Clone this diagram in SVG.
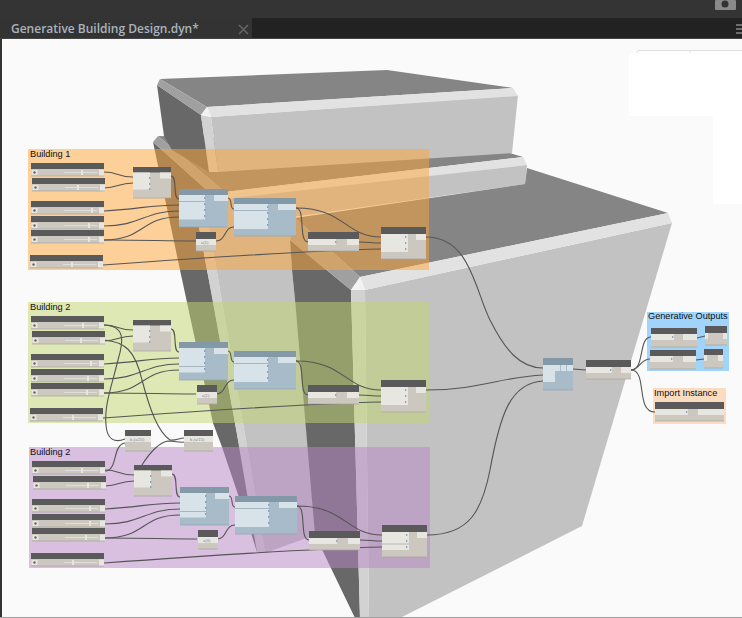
<svg xmlns="http://www.w3.org/2000/svg" width="742" height="618" viewBox="0 0 742 618">
<style>
.w{fill:none;stroke:#555;stroke-width:1.1}
.hd{fill:#5a5a5a}.bd{fill:#ccc8bf}.lt{fill:#e8e6e0}.blu{fill:#a8bbc8}.bh{fill:#8499a8}.bl{fill:#d8e2e9}
.edge{fill:none;stroke:#a5a39b;stroke-width:.7}.bedge{fill:none;stroke:#8fa3b1;stroke-width:.7}
.p{fill:#6f8fb5}.th{fill:#e8e6e0}
.lbl{font-family:"Liberation Sans",Arial,sans-serif;font-size:9.2px;fill:#101010}
.t{font-family:"Liberation Sans",Arial,sans-serif;font-size:4px;fill:#7a8a9a}
.g1{fill:#ffa63a;fill-opacity:.5}.g2{fill:#c2d66e;fill-opacity:.5}.g3{fill:#b884c6;fill-opacity:.5}
</style>
<defs>
<g id="sl"><rect class="hd" width="73" height="6"/><rect class="bd" y="6" width="73" height="7"/><rect class="lt" x=".5" y="7" width="6" height="5"/><circle cx="3.5" cy="9.5" r="1.2" fill="#666"/><rect x="33" y="9" width="33" height="1" fill="#e0ded8"/><rect class="lt" x="68" y="6.5" width="5" height="6.5"/><path class="edge" d="M0,13H73"/></g>
<g id="na"><rect class="bd" width="38" height="31"/><rect class="hd" width="38" height="5.500"/><rect class="lt" y="5.500" width="17" height="17"/><rect class="lt" x="27" y="5.500" width="11" height="6"/><path class="p" d="M16,10l2,1-2,1zM16,16l2,1-2,1zM16,21l2,1-2,1z"/><path class="edge" d="M0,31H38"/></g>
<g id="nb"><rect class="blu" width="49" height="38"/><rect class="bh" width="49" height="6"/><rect class="bl" y="6" width="26" height="24.500"/><rect class="bl" x="35" y="6" width="14" height="6"/><path class="p" d="M25,8l2,1-2,1zM25,14l2,1-2,1zM25,20l2,1-2,1zM25,26l2,1-2,1z"/><path class="bedge" d="M0,38H49"/></g>
<g id="nc"><rect class="blu" width="62" height="38"/><rect class="bh" width="62" height="6"/><rect class="bl" y="6" width="34" height="25"/><rect class="bl" x="44" y="6" width="18" height="6"/><path class="bedge" d="M0,12.500H34"/><path class="p" d="M33,8l2,1-2,1zM33,14l2,1-2,1zM33,20l2,1-2,1zM33,26l2,1-2,1z"/><path class="bedge" d="M0,38H62"/></g>
<g id="nd"><rect class="bd" width="20" height="19"/><rect class="hd" width="20" height="7"/><rect class="lt" y="7" width="20" height="6"/><path class="edge" d="M0,19H20"/></g>
<g id="ne"><rect class="bd" width="51" height="19"/><rect class="hd" width="51" height="7"/><rect class="lt" y="7" width="28" height="6"/><rect class="lt" x="39" y="7" width="12" height="6"/><path class="p" d="M27,9l2,1-2,1z"/><path class="edge" d="M0,19H51"/></g>
<g id="nf"><rect class="bd" width="45" height="32"/><rect class="hd" width="45" height="7"/><rect class="lt" y="7" width="27" height="18"/><rect class="lt" x="35" y="7" width="10" height="6"/><path class="p" d="M24,9l2,1-2,1zM24,15l2,1-2,1zM24,21l2,1-2,1z"/><path class="edge" d="M0,32H45"/></g>
<g id="wires">
<path class="w" d="M104,172C118,172 118,177 133,177"/>
<path class="w" d="M104,188C118,188 118,183 133,183"/>
<path class="w" d="M171,176C178,176 172,199 179,199"/>
<path class="w" d="M104,211C140,209 150,205 179,205"/>
<path class="w" d="M104,226C140,226 145,211 179,211"/>
<path class="w" d="M104,240C145,240 140,217 179,217"/>
<path class="w" d="M104,240C150,240 160,241 196,241"/>
<path class="w" d="M216,241C226,241 224,227 234,227"/>
<path class="w" d="M228,198C233,198 229,209 234,209"/>
<path class="w" d="M296,208C345,208 345,237 381,237"/>
<path class="w" d="M296,208C306,208 298,242 308,242"/>
<path class="w" d="M359,242C370,242 370,243 381,243"/>
<path class="w" d="M103,265C200,258 300,251 381,249"/>
</g>
</defs>

<g id="chrome">
<rect width="742" height="618" fill="#fafafa"/>
<rect width="742" height="18" fill="#343434"/>
<rect y="18" width="742" height="20" fill="#222"/>
<rect y="18" width="252" height="20" fill="#333"/>
<rect y="38" width="742" height="1" fill="#444"/>
<rect y="39" width="2" height="579" fill="#333"/>
<rect x="715" width="21" height="10" rx="1" fill="#8a8a8a"/><circle cx="725" cy="4" r="3.500" fill="#333"/>
<path d="M736,25H742M736,29H742M736,33H742" stroke="#888" stroke-width="1.500"/>
<text x="11" y="33" font-family="'Open Sans',sans-serif" font-size="12" font-weight="600" fill="#a9b4be">Generative Building Design.dyn*</text>
<path d="M239,25L248,34M248,25L239,34" stroke="#666" stroke-width="1.500"/>
<rect x="629" y="53" width="84" height="63" fill="#fff"/>
<rect x="713" y="51" width="29" height="153" fill="#fff"/>
<rect x="637" y="51" width="76" height="2" fill="#fff"/>
<path d="M637,53V52Q637,50.500 639,50.500H742M690,50.500V53" fill="none" stroke="#d8d8d8" stroke-width=".8"/>
</g>

<g id="building">
<polygon fill="#686868" points="153,142 180,270 213,423 222,447 251,533 257,552 259,552 235,423 212,295 207,270 194,200 218,200"/>
<polygon fill="#d2d2d2" points="194,200 205,200 220,290 243,423 265,553 257,552 235,423 207,270"/>
<polygon fill="#c2c2c2" points="205,200 295,210 290,240 292,270 295,300 313,500 315,535 265,553 243,423 220,290"/>
<polygon fill="#858585" points="158,136 482,145 523,157 225,192"/>
<polygon fill="#a0a0a0" points="153,142 158,136 225,192 218,200"/>
<polygon fill="#e2e2e2" points="225,192 523,157 527,165 230,200 218,200"/>
<polygon fill="#c2c2c2" points="225,199 527,165 525,184 300,216 225,222"/>
<polygon fill="#686868" points="290,240 351,290 360,618 355,618 315,535 295,300 292,270"/>
<polygon fill="#858585" points="527,168 668,213 360,277 295,218 525,184"/>
<polygon fill="#a0a0a0" points="295,218 360,277 351,290 290,240"/>
<polygon fill="#c2c2c2" points="365,290 672,223 582,526 400,618 369,618"/>
<polygon fill="#d2d2d2" points="351,290 365,290 369,618 360,618"/>
<polygon fill="#e2e2e2" points="360,277 668,213 672,223 365,290"/>
<polygon fill="#f2f2f2" points="360,277 365,290 351,290"/>
<polygon fill="#686868" points="157,85 201,115 209,172 172,150 164,136"/>
<polygon fill="#858585" points="160,79 387,70 513,88 207,107"/>
<polygon fill="#a0a0a0" points="160,79 207,107 201,115 157,85"/>
<polygon fill="#c2c2c2" points="211,117 518,95 512,153 218,172"/>
<polygon fill="#d2d2d2" points="201,115 211,117 218,172 209,172"/>
<polygon fill="#e2e2e2" points="207,107 513,88 518,96 211,117"/>
<polygon fill="#f2f2f2" points="207,107 211,117 201,115"/>
</g>

<g id="group-b1"><rect class="g1" x="28" y="149" width="401" height="121"/><text class="lbl" x="30" y="157">Building 1</text></g>
<g id="group-b2"><rect class="g2" x="28" y="302" width="401" height="121"/><text class="lbl" x="30" y="310">Building 2</text></g>
<g id="group-b3"><rect class="g3" x="29" y="447" width="401" height="121"/><text class="lbl" x="30" y="455">Building 2</text></g>
<g id="group-out"><rect x="647" y="312" width="82" height="59" fill="#a0d4fb"/><text class="lbl" x="648" y="319">Generative Outputs</text></g>
<g id="group-imp"><rect x="653" y="388" width="73" height="36" fill="#fbdcc0"/><text class="lbl" x="654" y="396">Import Instance</text></g>

<g id="connectors">
<use href="#wires"/>
<use href="#wires" y="153"/>
<use href="#wires" x="1" y="298"/>
<path class="w" d="M426,237C470,237 475,290 490,320C505,350 520,368 543,368"/>
<path class="w" d="M426,390C480,390 500,377 543,375"/>
<path class="w" d="M427,535C470,535 482,510 490,470C500,415 510,383 543,381"/>
<path class="w" d="M104,325C125,326 124,340 118,360C112,385 104,405 106,425C107,440 115,443 125,439"/>
<path class="w" d="M104,340C125,342 135,350 142,380C150,410 158,432 170,440C175,441 180,438 184,438"/>
<path class="w" d="M142,465C150,452 160,442 168,441C175,441 180,443 184,442"/>
<path class="w" d="M105,471C118,471 112,445 125,443"/>
<path class="w" d="M573,369L586,370"/>
<path class="w" d="M631,370C645,370 638,337 651,337"/>
<path class="w" d="M631,370C640,370 640,359 650,359"/>
<path class="w" d="M631,370C648,370 635,412 655,412"/>
<path class="w" d="M697,338L705,336"/>
<path class="w" d="M696,360L704,359"/>
</g>

<g id="b1-s1" transform="translate(31 163)"><use href="#sl"/><rect class="th" x="50" y="7" width="2" height="5"/></g>
<g id="b1-s2" transform="translate(32 178)"><use href="#sl"/><rect class="th" x="45" y="7" width="2" height="5"/></g>
<g id="b1-s3" transform="translate(31 201)"><use href="#sl"/><rect class="th" x="60" y="7" width="2" height="5"/></g>
<g id="b1-s4" transform="translate(31 216)"><use href="#sl"/><rect class="th" x="57" y="7" width="2" height="5"/></g>
<g id="b1-s5" transform="translate(31 230)"><use href="#sl"/><rect class="th" x="57" y="7" width="2" height="5"/></g>
<g id="b1-s6" transform="translate(30 255)"><use href="#sl"/><rect class="th" x="41" y="7" width="2" height="5"/></g>
<use id="b1-a" href="#na" x="133" y="167"/>
<g id="b1-b" transform="translate(179 189)"><use href="#nb"/><path class="bedge" d="M0,12.500H26"/></g>
<use id="b1-c" href="#nc" x="234" y="198"/>
<g id="b1-d" transform="translate(196 232)"><use href="#nd"/><text class="t" x="5" y="12">a(1);</text></g>
<use id="b1-e" href="#ne" x="308" y="232"/>
<use id="b1-f" href="#nf" x="381" y="227"/>

<g id="b2-s1" transform="translate(31 316)"><use href="#sl"/><rect class="th" x="51" y="7" width="2" height="5"/></g>
<g id="b2-s2" transform="translate(32 331)"><use href="#sl"/><rect class="th" x="48" y="7" width="2" height="5"/></g>
<g id="b2-s3" transform="translate(31 354)"><use href="#sl"/><rect class="th" x="59" y="7" width="2" height="5"/></g>
<g id="b2-s4" transform="translate(31 369)"><use href="#sl"/><rect class="th" x="56" y="7" width="2" height="5"/></g>
<g id="b2-s5" transform="translate(31 383)"><use href="#sl"/><rect class="th" x="55" y="7" width="2" height="5"/></g>
<g id="b2-s6" transform="translate(30 408)"><use href="#sl"/><rect class="th" x="42" y="7" width="2" height="5"/></g>
<use id="b2-a" href="#na" x="133" y="320"/>
<g id="b2-b" transform="translate(179 342)"><use href="#nb"/><path class="bedge" d="M0,24.500H26"/></g>
<use id="b2-c" href="#nc" x="234" y="351"/>
<g id="b2-d" transform="translate(197 385)"><use href="#nd"/><text class="t" x="5" y="12">a(1);</text></g>
<use id="b2-e" href="#ne" x="308" y="385"/>
<use id="b2-f" href="#nf" x="381" y="380"/>

<g id="n-expr1" transform="translate(125 430)"><rect class="bd" width="26" height="21"/><rect class="hd" width="26" height="6"/><rect class="lt" y="6" width="26" height="6"/><text class="t" x="5" y="11">b-(a/20);</text><path class="edge" d="M0,21H26"/></g>
<g id="n-expr2" transform="translate(184 430)"><rect class="bd" width="29" height="21"/><rect class="hd" width="29" height="6"/><rect class="lt" y="6" width="29" height="6"/><text class="t" x="6" y="11">b-(a/15);</text><path class="edge" d="M0,21H29"/></g>

<g id="b3-s1" transform="translate(32 461)"><use href="#sl"/><rect class="th" x="49" y="7" width="2" height="5"/></g>
<g id="b3-s2" transform="translate(33 476)"><use href="#sl"/><rect class="th" x="54" y="7" width="2" height="5"/></g>
<g id="b3-s3" transform="translate(32 499)"><use href="#sl"/><rect class="th" x="57" y="7" width="2" height="5"/></g>
<g id="b3-s4" transform="translate(32 514)"><use href="#sl"/><rect class="th" x="57" y="7" width="2" height="5"/></g>
<g id="b3-s5" transform="translate(32 528)"><use href="#sl"/><rect class="th" x="53" y="7" width="2" height="5"/></g>
<g id="b3-s6" transform="translate(31 553)"><use href="#sl"/><rect class="th" x="41" y="7" width="2" height="5"/></g>
<use id="b3-a" href="#na" x="134" y="465"/>
<g id="b3-b" transform="translate(180 487)"><use href="#nb"/><path class="bedge" d="M0,24.500H26"/></g>
<use id="b3-c" href="#nc" x="235" y="496"/>
<g id="b3-d" transform="translate(198 530)"><use href="#nd"/><text class="t" x="5" y="12">a(3);</text></g>
<use id="b3-e" href="#ne" x="309" y="531"/>
<g id="b3-f" transform="translate(382 525)"><use href="#nf"/><path class="edge" d="M0,19H27"/></g>

<g id="hub" transform="translate(543 358)"><rect class="blu" width="30" height="32"/><rect class="bh" width="30" height="7"/><rect class="bl" y="7" width="12" height="17"/><rect class="bl" x="12" y="7" width="5" height="6"/><rect class="bl" x="18" y="7" width="5" height="6"/><rect class="bl" x="24" y="7" width="6" height="6"/><path class="bedge" d="M0,32H30"/></g>
<g id="out-a" transform="translate(586 360)"><rect class="bd" width="45" height="19"/><rect class="hd" width="45" height="7"/><rect class="lt" y="7" width="26" height="6"/><rect class="lt" x="35" y="7" width="10" height="6"/><path class="p" d="M24,9l2,1-2,1z"/><path class="edge" d="M0,19H45"/></g>
<g id="go1" transform="translate(651 328)"><rect class="bd" width="46" height="19"/><rect class="hd" width="46" height="6"/><rect class="lt" y="6" width="23" height="6"/><rect class="lt" x="32" y="6" width="14" height="6"/><path class="p" d="M21,8l2,1-2,1z"/><path class="edge" d="M0,19H46"/></g>
<g id="go2" transform="translate(650 350)"><rect class="bd" width="46" height="19"/><rect class="hd" width="46" height="6"/><rect class="lt" y="6" width="23" height="6"/><rect class="lt" x="33" y="6" width="13" height="6"/><path class="p" d="M21,8l2,1-2,1z"/><path class="edge" d="M0,19H46"/></g>
<g id="watch1" transform="translate(705 326)"><rect class="bd" width="22" height="19"/><rect class="hd" width="22" height="7"/><rect class="lt" y="7" width="3" height="6"/><rect class="lt" x="18" y="7" width="4" height="6"/><path class="edge" d="M0,19H22"/></g>
<g id="watch2" transform="translate(704 349)"><rect class="bd" width="19" height="19"/><rect class="hd" width="19" height="6"/><rect class="lt" y="6" width="3" height="6"/><rect class="lt" x="14" y="6" width="5" height="6"/><path class="edge" d="M0,19H19"/></g>
<g id="import" transform="translate(655 402)"><rect class="bd" width="69" height="19"/><rect class="hd" width="69" height="7"/><rect class="lt" y="7" width="33" height="6"/><rect class="lt" x="43" y="7" width="26" height="6"/><path class="p" d="M31,9l2,1-2,1z"/><path class="edge" d="M0,19H69"/></g>
<rect id="frame-bottom" y="617" width="742" height="1" fill="#a0a0a0"/>
</svg>
